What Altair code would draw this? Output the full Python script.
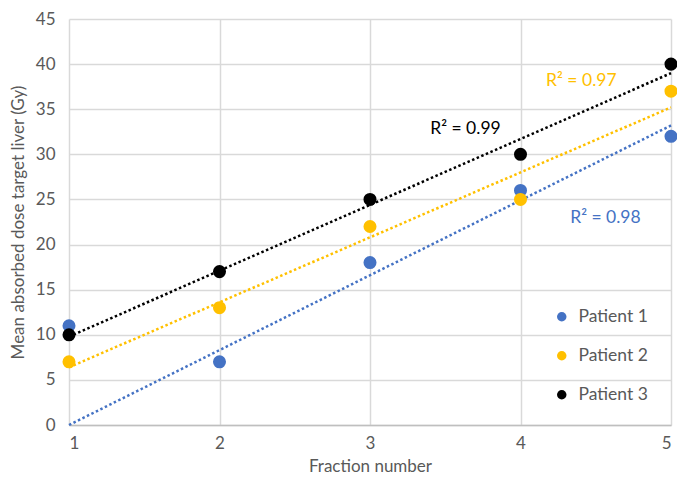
import altair as alt
import pandas as pd

fractions = [1, 2, 3, 4, 5]
patients = ["Patient 1", "Patient 2", "Patient 3"]
dose_p1 = [11, 7, 18, 26, 32]
dose_p2 = [7, 13, 22, 25, 37]
dose_p3 = [10, 17, 25, 30, 40]
# Patient 1 trend fitted to fractions 2-5 (as in the original)
fit_p1 = [False, True, True, True, True]
colors = ["#4472C4", "#FFC000", "#000000"]

r2_labels = ["R² = 0.98", "R² = 0.97", "R² = 0.99"]
r2_x = [4.33, 4.17, 3.40]
r2_y = [22.9, 38.1, 32.8]

rows = []
for p, vals, fit in [
    ("Patient 1", dose_p1, fit_p1),
    ("Patient 2", dose_p2, [True] * 5),
    ("Patient 3", dose_p3, [True] * 5),
]:
    for f, v, ok in zip(fractions, vals, fit):
        rows.append({"fraction": f, "dose": v, "patient": p, "fit": ok})
df = pd.DataFrame(rows)
lab = pd.DataFrame({"patient": patients, "label": r2_labels, "x": r2_x, "y": r2_y})

FONT = "Lato"
TXT = "#595959"

xs = alt.Scale(domain=[1, 5], nice=False)
ys = alt.Scale(domain=[0, 45], nice=False)
cs = alt.Scale(domain=patients, range=colors)
leg = alt.Legend(
    title=None, orient="none", legendX=484, legendY=289,
    symbolType="circle", symbolSize=90, symbolStrokeWidth=0, rowPadding=20,
    labelFontSize=17.5, labelColor=TXT, labelFont=FONT, labelOffset=8,
)

base = alt.Chart(df)

trend = base.transform_filter("datum.fit").transform_regression(
    "fraction", "dose", groupby=["patient"], extent=[1, 5]
).mark_line(strokeDash=[2.5, 2.5], strokeWidth=2.5).encode(
    x=alt.X("fraction:Q", scale=xs),
    y=alt.Y("dose:Q", scale=ys),
    color=alt.Color("patient:N", scale=cs, legend=leg),
)

points = base.mark_point(filled=True, size=170, opacity=1).encode(
    x=alt.X(
        "fraction:Q",
        scale=xs,
        title="Fraction number",
        axis=alt.Axis(values=fractions, format="d", tickSize=0, labelPadding=10,
                      titlePadding=7, domainColor="#BFBFBF", domainWidth=1.5),
    ),
    y=alt.Y(
        "dose:Q",
        scale=ys,
        title="Mean absorbed dose target liver (Gy)",
        axis=alt.Axis(values=list(range(0, 50, 5)), tickSize=0, labelPadding=14,
                      titlePadding=8, domain=False),
    ),
    color=alt.Color("patient:N", scale=cs, legend=leg),
)

labels = alt.Chart(lab).mark_text(align="left", baseline="middle", fontSize=17.5, font=FONT).encode(
    x=alt.X("x:Q", scale=xs),
    y=alt.Y("y:Q", scale=ys),
    text="label:N",
    color=alt.Color("patient:N", scale=cs, legend=leg),
)

chart = alt.layer(trend, points, labels).properties(
    width=602,
    height=406,
    autosize=alt.AutoSizeParams(type="none"),
    padding={"left": 61, "top": 11, "right": 6, "bottom": 50},
).configure_view(stroke=None).configure_axis(
    grid=True, gridColor="#D9D9D9", gridWidth=1.5,
    labelFont=FONT, titleFont=FONT, labelFontSize=17, titleFontSize=17,
    labelColor=TXT, titleColor=TXT, titleFontWeight="normal",
)

chart.save("out.html", embed_options={"renderer": "svg", "actions": False})
